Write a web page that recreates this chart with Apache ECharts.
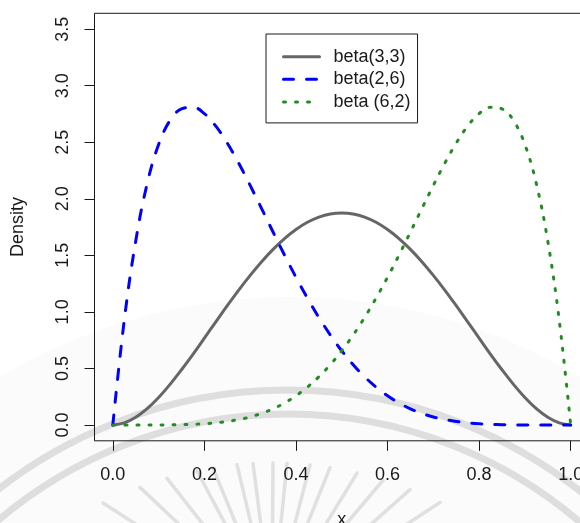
<!DOCTYPE html>
<html>
<head>
<meta charset="utf-8">
<script src="https://cdn.jsdelivr.net/npm/echarts@6/dist/echarts.min.js"></script>
<style>
  html, body { margin: 0; padding: 0; background: #fff; }
  #chart { width: 580px; height: 523px; }
</style>
</head>
<body>
<div id="chart"></div>
<script>
// Sample points along x
const xs = [0, 0.025, 0.05, 0.075, 0.1, 0.125, 0.15, 0.175, 0.2, 0.225,
  0.25, 0.275, 0.3, 0.325, 0.35, 0.375, 0.4, 0.425, 0.45, 0.475,
  0.5, 0.525, 0.55, 0.575, 0.6, 0.625, 0.65, 0.675, 0.7, 0.725,
  0.75, 0.775, 0.8, 0.825, 0.85, 0.875, 0.9, 0.925, 0.95, 0.975, 1];

// Density values of the three curves
const beta33 = [0, 0.018, 0.068, 0.144, 0.243, 0.359, 0.488, 0.625, 0.768, 0.912,
  1.055, 1.193, 1.323, 1.444, 1.553, 1.648, 1.728, 1.792, 1.838, 1.866,
  1.875, 1.866, 1.838, 1.792, 1.728, 1.648, 1.553, 1.444, 1.323, 1.193,
  1.055, 0.912, 0.768, 0.625, 0.488, 0.359, 0.243, 0.144, 0.068, 0.018, 0];

const beta26 = [0, 0.925, 1.625, 2.133, 2.480, 2.693, 2.795, 2.809, 2.753, 2.642,
  2.492, 2.314, 2.118, 1.913, 1.706, 1.502, 1.306, 1.122, 0.951, 0.796,
  0.656, 0.533, 0.426, 0.335, 0.258, 0.195, 0.143, 0.103, 0.071, 0.048,
  0.031, 0.019, 0.011, 0.006, 0.003, 0.001, 0.0004, 0.0001, 0, 0, 0];

const beta62 = [0, 0, 0, 0.0001, 0.0004, 0.001, 0.003, 0.006, 0.011, 0.019,
  0.031, 0.048, 0.071, 0.103, 0.143, 0.195, 0.258, 0.335, 0.426, 0.533,
  0.656, 0.796, 0.951, 1.122, 1.306, 1.502, 1.706, 1.913, 2.118, 2.314,
  2.492, 2.642, 2.753, 2.809, 2.795, 2.693, 2.480, 2.133, 1.625, 0.925, 0];

const seriesNames = ['beta(3,3)', 'beta(2,6)', 'beta (6,2)'];

// Axis ticks; the plotted ranges carry 4% padding on each side
const xTicks = [0, 0.2, 0.4, 0.6, 0.8, 1.0];
const yTicks = [0, 0.5, 1.0, 1.5, 2.0, 2.5, 3.0, 3.5];
const xLim = [-0.04, 1.04];
const yLim = [-0.14, 3.64];

const pairs = ys => xs.map((x, i) => [x, ys[i]]);

// Faint seal in the page background: two arcs and a fan of rays
const seal = [];
seal.push({ type: 'circle', silent: true, z: -20,
  shape: { cx: 290, cy: 862, r: 565 }, style: { fill: '#fbfbfb' } });
[472, 448].forEach(r => seal.push({ type: 'arc', silent: true, z: -15,
  shape: { cx: 288, cy: 862, r: r, startAngle: Math.PI, endAngle: 2 * Math.PI },
  style: { stroke: '#dedede', lineWidth: 7, fill: null } }));
const rayTips = [-169, -132, -105, -75, -59, -35, -19, 1, 15, 38, 58, 85, 111, 138, 168];
const rc = [272, 612];
rayTips.forEach(dx => {
  const tx = rc[0] + dx, ty = 463 + 0.0014 * dx * dx;
  const ex = tx + (rc[0] - tx) * 0.45, ey = ty + (rc[1] - ty) * 0.45;
  seal.push({ type: 'line', silent: true, z: -15,
    shape: { x1: tx, y1: ty, x2: ex, y2: ey },
    style: { stroke: '#e0e0e0', lineWidth: 3.5, lineCap: 'round' } });
});

const font = 'Liberation Sans, Arial, sans-serif';
const ink = '#1a1a1a';
const chart = echarts.init(document.getElementById('chart'), null, { renderer: 'canvas' });

const hiddenAxis = (min, max, position) => ({ gridIndex: 0, type: 'value', min: min, max: max,
  position: position, show: false, axisLine: { onZero: false } });

// Tick-only axis: placed on the opposite side, then pinned to the frame edge
// through a helper scale, with the ticks flipped to point out of the frame
const tickAxis = (min, max, position, values) => ({
  gridIndex: 0, type: 'value', min: min, max: max, position: position,
  axisLine: { show: false, onZero: true, onZeroAxisIndex: 2 },
  splitLine: { show: false },
  axisLabel: { show: false },
  axisTick: { show: true, inside: true, customValues: values, length: 10,
    lineStyle: { color: ink, width: 1 } }
});

chart.setOption({
  animation: false,
  backgroundColor: '#ffffff',
  graphic: seal,
  grid: {
    left: 94.5, top: 13.3, width: 494.5, height: 427.5,
    outerBoundsMode: 'none', containLabel: false,
    show: true, borderColor: ink, borderWidth: 1, backgroundColor: 'transparent'
  },
  legend: {
    orient: 'vertical', left: 266, top: 34,
    data: seriesNames,
    selectedMode: false,
    itemWidth: 36, itemHeight: 14, itemGap: 4.6,
    padding: [13.7, 7, 12, 16],
    borderColor: ink, borderWidth: 1, borderRadius: 0,
    backgroundColor: '#ffffff',
    itemStyle: { opacity: 0 },
    lineStyle: { width: 3, cap: 'round' },
    textStyle: { fontFamily: font, fontSize: 18, color: ink, padding: [0, 0, 0, 9] }
  },
  xAxis: [
    // 0: data scale
    hiddenAxis(xLim[0], xLim[1], 'top'),
    // 1: tick labels and axis title along the bottom edge
    {
      gridIndex: 0, type: 'value', min: xLim[0], max: xLim[1], position: 'bottom',
      name: 'x', nameLocation: 'middle', nameGap: 70.5, nameMoveOverlap: false,
      nameTextStyle: { fontFamily: font, fontSize: 18, color: ink },
      axisLine: { show: false, onZero: true, onZeroAxisIndex: 2 },
      splitLine: { show: false },
      axisTick: { show: false },
      axisLabel: { customValues: xTicks, margin: 25, fontFamily: font, fontSize: 18, color: ink,
        formatter: v => v.toFixed(1) }
    },
    // 2: helper scale whose zero sits on the left edge
    hiddenAxis(0, 1, 'top'),
    // 3: tick marks on the bottom edge
    tickAxis(xLim[0], xLim[1], 'top', xTicks)
  ],
  yAxis: [
    hiddenAxis(yLim[0], yLim[1], 'right'),
    {
      gridIndex: 0, type: 'value', min: yLim[0], max: yLim[1], position: 'left',
      name: 'Density', nameLocation: 'middle', nameGap: 67, nameRotate: 90, nameMoveOverlap: false,
      nameTextStyle: { fontFamily: font, fontSize: 18, color: ink },
      axisLine: { show: false, onZero: true, onZeroAxisIndex: 2 },
      splitLine: { show: false },
      axisTick: { show: false },
      axisLabel: { customValues: yTicks, margin: 22, rotate: 90, align: 'center', verticalAlign: 'bottom',
        fontFamily: font, fontSize: 18, color: ink, formatter: v => v.toFixed(1) }
    },
    // 2: helper scale whose zero sits on the bottom edge
    hiddenAxis(0, 1, 'right'),
    // 3: tick marks on the left edge
    tickAxis(yLim[0], yLim[1], 'right', yTicks)
  ],
  series: [
    { name: seriesNames[0], type: 'line', xAxisIndex: 0, yAxisIndex: 0, data: pairs(beta33),
      symbol: 'none', smooth: 0.4,
      lineStyle: { color: '#666666', width: 3, type: 'solid', cap: 'round', join: 'round' } },
    { name: seriesNames[1], type: 'line', xAxisIndex: 0, yAxisIndex: 0, data: pairs(beta26),
      symbol: 'none', smooth: 0.4,
      lineStyle: { color: '#0000ff', width: 3, type: [10, 13], cap: 'round', join: 'round' } },
    { name: seriesNames[2], type: 'line', xAxisIndex: 0, yAxisIndex: 0, data: pairs(beta62),
      symbol: 'none', smooth: 0.4,
      lineStyle: { color: '#228b22', width: 3, type: [2, 10], cap: 'round', join: 'round' } }
  ]
});
</script>
</body>
</html>
